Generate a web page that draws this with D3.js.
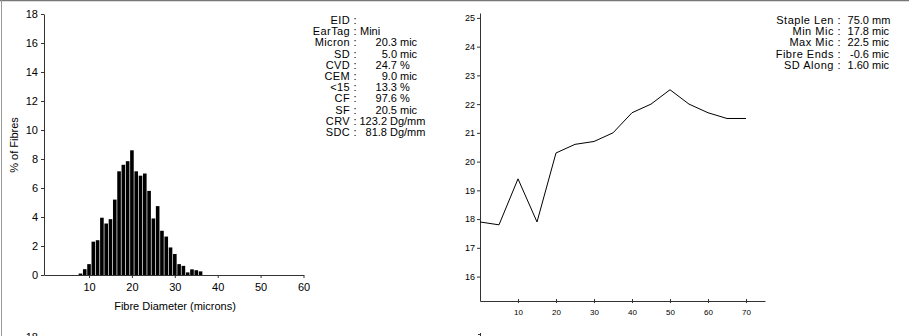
<!DOCTYPE html>
<html>
<head>
<meta charset="utf-8">
<script src="https://cdn.jsdelivr.net/npm/d3@7"></script>
<style>
  html, body { margin: 0; padding: 0; background: #fff; }
  svg { display: block; font-family: "Liberation Sans", Arial, sans-serif; }
</style>
</head>
<body>
<svg id="chart" width="909" height="336"></svg>
<script>
// Fibre diameter histogram: micron class and % of fibres
const diamMicrons = [8, 9, 10, 11, 12, 13, 14, 15, 16, 17, 18, 19, 20, 21, 22, 23, 24, 25, 26, 27, 28, 29, 30, 31, 32, 33, 34, 35, 36];
const diamPercent = [0.1, 0.4, 0.75, 2.3, 2.4, 3.95, 3.55, 3.85, 5.2, 7.15, 7.6, 7.85, 8.6, 7.15, 6.85, 7.0, 5.8, 3.9, 4.75, 3.05, 2.65, 1.9, 1.45, 0.75, 0.63, 0.18, 0.39, 0.33, 0.25];
const histXTicks = [10, 20, 30, 40, 50, 60];
const histYTicks = [0, 2, 4, 6, 8, 10, 12, 14, 16, 18];

// Diameter profile along the staple (mm from tip, micron)
const profilePos = [0, 5, 10, 15, 20, 25, 30, 35, 40, 45, 50, 55, 60, 65, 70];
const profileMic = [17.9, 17.8, 19.4, 17.9, 20.3, 20.6, 20.7, 21.0, 21.7, 22.0, 22.5, 22.0, 21.7, 21.5, 21.5];
const profXTicks = [10, 20, 30, 40, 50, 60, 70];
const profYTicks = [16, 17, 18, 19, 20, 21, 22, 23, 24, 25];

// Summary statistics
const statLabels = ["EID", "EarTag", "Micron", "SD", "CVD", "CEM", "<15", "CF", "SF", "CRV", "SDC"];
const statValues = ["", "", "20.3", "5.0", "24.7", "9.0", "13.3", "97.6", "20.5", "123.2", "81.8"];
const statUnits = ["", "Mini", "mic", "mic", "%", "mic", "%", "%", "mic", "Dg/mm", "Dg/mm"];

const profLabels = ["Staple Len", "Min Mic", "Max Mic", "Fibre Ends", "SD Along"];
const profValues = ["75.0", "17.8", "22.5", "-0.6", "1.60"];
const profUnits = ["mm", "mic", "mic", "mic", "mic"];

const svg = d3.select("#chart");
const axisColor = "#333";

// Page frame
svg.append("line").attr("x1", 0).attr("x2", 909).attr("y1", 0.5).attr("y2", 0.5)
  .attr("stroke", "#777").attr("stroke-width", 1.5);
svg.append("line").attr("x1", 1.5).attr("x2", 1.5).attr("y1", 0).attr("y2", 336)
  .attr("stroke", "#999").attr("stroke-width", 1);

// ---------- Histogram ----------
const hx = d3.scaleLinear().domain([-0.5, 60]).range([44, 303.5]);
const hy = d3.scaleLinear().domain([0, 18]).range([275, 14]);

const hist = svg.append("g");
hist.selectAll("rect.bar")
  .data(diamMicrons.map((m, i) => ({ m, v: diamPercent[i] })))
  .join("rect")
  .attr("class", "bar")
  .attr("x", d => hx(d.m - 0.42))
  .attr("width", d => hx(d.m + 0.42) - hx(d.m - 0.42))
  .attr("y", d => hy(d.v))
  .attr("height", d => hy(0) - hy(d.v))
  .attr("fill", "#000");

const hxAxis = hist.append("g").attr("transform", `translate(0,${hy(0)})`)
  .call(d3.axisBottom(hx).tickValues(histXTicks).tickSize(3).tickSizeOuter(0).tickPadding(5));
const hyAxis = hist.append("g").attr("transform", `translate(${hx(-0.5)},0)`)
  .call(d3.axisLeft(hy).tickValues(histYTicks).tickSize(3).tickSizeOuter(0).tickPadding(3));
[hxAxis, hyAxis].forEach(a => {
  a.select(".domain").attr("stroke", axisColor);
  a.selectAll(".tick line").attr("stroke", axisColor);
  a.selectAll("text").attr("font-size", 11).attr("fill", "#000")
    .attr("font-family", "Liberation Sans, Arial, sans-serif");
});

hist.append("text").attr("x", 175).attr("y", 310).attr("text-anchor", "middle")
  .attr("font-size", 11).text("Fibre Diameter (microns)");
hist.append("text").attr("transform", "translate(18,145) rotate(-90)")
  .attr("text-anchor", "middle").attr("font-size", 11).text("% of Fibres");

// ---------- Statistics block ----------
// numbers end at a column, units follow; long units sit in a tighter column
const stats = svg.append("g").attr("font-size", 11);
statLabels.forEach((lab, i) => {
  const y = 24 + i * 11.2;
  stats.append("text").attr("x", 357).attr("y", y).attr("text-anchor", "end")
    .attr("letter-spacing", 0.4).text(lab + " :");
  if (statValues[i] !== "") {
    const unitX = statUnits[i].length > 3 ? 390 : 400;
    stats.append("text").attr("x", unitX - 3).attr("y", y).attr("text-anchor", "end").text(statValues[i]);
    stats.append("text").attr("x", unitX).attr("y", y).text(statUnits[i]);
  } else if (statUnits[i] !== "") {
    stats.append("text").attr("x", 360).attr("y", y).text(statUnits[i]);
  }
});

// ---------- Diameter profile ----------
const px = d3.scaleLinear().domain([0, 75]).range([480, 765]);
const py = d3.scaleLinear().domain([15.15, 25.17]).range([301, 13]);

const prof = svg.append("g");
const pxAxis = prof.append("g").attr("transform", `translate(0,${py.range()[0]})`)
  .call(d3.axisBottom(px).tickValues(profXTicks).tickSize(2).tickSizeOuter(0).tickPadding(6));
const pyAxis = prof.append("g").attr("transform", `translate(${px(0)},0)`)
  .call(d3.axisLeft(py).tickValues(profYTicks).tickSize(3).tickSizeOuter(0).tickPadding(2));
pxAxis.selectAll(".tick line").attr("y1", -2).attr("y2", 2);
[pxAxis, pyAxis].forEach(a => {
  a.select(".domain").attr("stroke", axisColor);
  a.selectAll(".tick line").attr("stroke", axisColor);
  a.selectAll("text").attr("fill", "#000")
    .attr("font-family", "Liberation Sans, Arial, sans-serif");
});
pxAxis.selectAll("text").attr("font-size", 8);
pyAxis.selectAll("text").attr("font-size", 9);

prof.append("path")
  .datum(profilePos.map((p, i) => [p, profileMic[i]]))
  .attr("fill", "none").attr("stroke", "#000").attr("stroke-width", 1)
  .attr("d", d3.line().x(d => px(d[0])).y(d => py(d[1])));

const pstats = svg.append("g").attr("font-size", 11);
profLabels.forEach((lab, i) => {
  const y = 24 + i * 11.2;
  pstats.append("text").attr("x", 841).attr("y", y).attr("text-anchor", "end")
    .attr("letter-spacing", 0.5).text(lab + " :");
  pstats.append("text").attr("x", 869).attr("y", y).attr("text-anchor", "end").text(profValues[i]);
  pstats.append("text").attr("x", 872).attr("y", y).text(profUnits[i]);
});

// Top of the next panel row
svg.append("text").attr("x", 38).attr("y", 341).attr("text-anchor", "end")
  .attr("font-size", 11).text("18");
svg.append("line").attr("x1", 478).attr("x2", 481).attr("y1", 334.5).attr("y2", 334.5)
  .attr("stroke", axisColor);
svg.append("line").attr("x1", 480.5).attr("x2", 480.5).attr("y1", 333).attr("y2", 336)
  .attr("stroke", axisColor);
</script>
</body>
</html>
